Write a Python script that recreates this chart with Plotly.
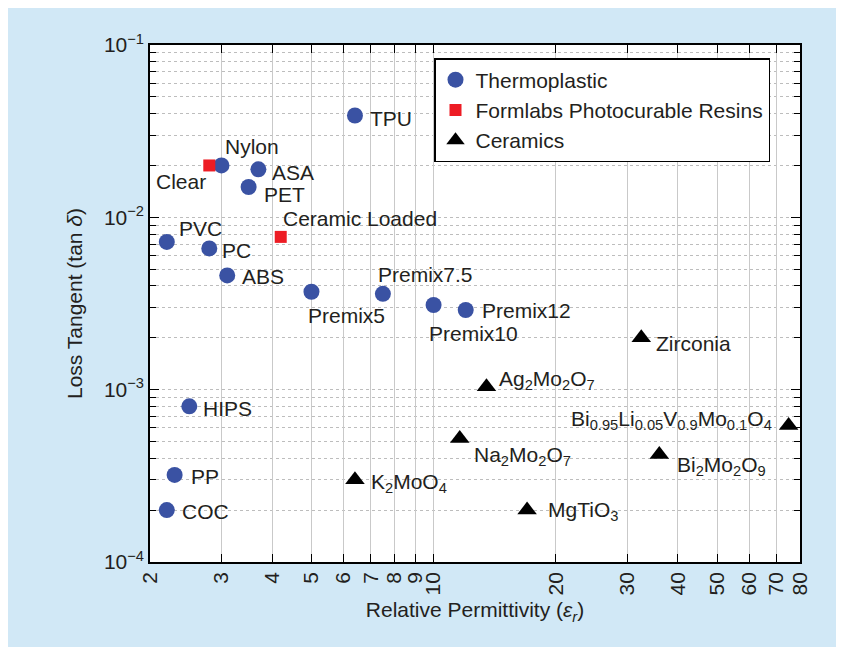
import numpy as np
import plotly.graph_objects as go

# ---------------- data ----------------
thermo_names = ["TPU", "Nylon", "ASA", "PET", "PVC", "PC", "ABS", "Premix5",
                "Premix7.5", "Premix10", "Premix12", "HIPS", "PP", "COC"]
thermo_er = [6.4, 3.0, 3.7, 3.5, 2.2, 2.8, 3.1, 5.0, 7.5, 10.0, 12.0, 2.5, 2.3, 2.2]
thermo_tand = [0.039, 0.020, 0.019, 0.015, 0.0072, 0.0066, 0.0046, 0.0037,
               0.0036, 0.0031, 0.0029, 0.0008, 0.00032, 0.0002]

resin_names = ["Clear", "Ceramic Loaded"]
resin_er = [2.8, 4.2]
resin_tand = [0.020, 0.0077]

ceramic_names = ["Zirconia", "Ag<sub>2</sub>Mo<sub>2</sub>O<sub>7</sub>",
                 "Na<sub>2</sub>Mo<sub>2</sub>O<sub>7</sub>", "K<sub>2</sub>MoO<sub>4</sub>",
                 "MgTiO<sub>3</sub>", "Bi<sub>2</sub>Mo<sub>2</sub>O<sub>9</sub>",
                 "Bi<sub>0.95</sub>Li<sub>0.05</sub>V<sub>0.9</sub>Mo<sub>0.1</sub>O<sub>4</sub>"]
ceramic_er = [32.5, 13.5, 11.6, 6.4, 17.0, 36.0, 75.0]
ceramic_tand = [0.0020, 0.00104, 0.00052, 0.00030, 0.00020, 0.00042, 0.00062]

x_ticks = [2, 3, 4, 5, 6, 7, 8, 9, 10, 20, 30, 40, 50, 60, 70, 80]
x_ticktext = [str(v) for v in x_ticks]
y_ticks = [1e-4, 1e-3, 1e-2, 1e-1]
y_ticktext = ["10<sup>−4</sup>", "10<sup>−3</sup>", "10<sup>−2</sup>", "10<sup>−1</sup>"]

# label placement (pixel offsets: xanchor, xshift, yshift)
thermo_lbl = [("left", 13, -3), ("left", 2, 19), ("left", 12, -3), ("left", 13, -8),
              ("left", 10, 13), ("left", 11, -2), ("left", 13, -1), ("left", -5, -24),
              ("left", -7, 19), ("left", -7, -29), ("left", 14, -1), ("left", 12, -2),
              ("left", 14, -2), ("left", 13, -1)]
resin_lbl = [("right", -1, -16), ("left", 0, 18)]
ceramic_lbl = [("left", 13, -6), ("left", 11, 7), ("left", 12, -17), ("left", 14, -3),
               ("left", 19, -1), ("left", 16, -11), ("right", -15, 5)]

BLUE = "#3a52a3"
RED = "#ed1c24"
BG = "#d1e8f6"
FONT = "Liberation Sans, Arial, Helvetica, sans-serif"
FS = 21

fig = go.Figure()
fig.add_trace(go.Scatter(x=thermo_er, y=thermo_tand, mode="markers", name="Thermoplastic",
                         marker=dict(symbol="circle", size=16, color=BLUE), hoverinfo="skip"))
fig.add_trace(go.Scatter(x=resin_er, y=resin_tand, mode="markers",
                         name="Formlabs Photocurable Resins",
                         marker=dict(symbol="square", size=12, color=RED), hoverinfo="skip"))
fig.add_trace(go.Scatter(x=ceramic_er, y=ceramic_tand, mode="markers", name="Ceramics",
                         marker=dict(symbol="triangle-up", size=17, color="black"),
                         hoverinfo="skip"))

annotations = []
for names, xs, ys, lbls in [(thermo_names, thermo_er, thermo_tand, thermo_lbl),
                            (resin_names, resin_er, resin_tand, resin_lbl),
                            (ceramic_names, ceramic_er, ceramic_tand, ceramic_lbl)]:
    for n, xv, yv, (xa, dx, dy) in zip(names, xs, ys, lbls):
        annotations.append(dict(x=np.log10(xv), y=np.log10(yv), xref="x", yref="y",
                                text=n, showarrow=False, xanchor=xa, yanchor="middle",
                                xshift=dx, yshift=dy,
                                font=dict(family=FONT, size=FS, color="#231f20")))

minor_y = [m * 10.0 ** e for e in (-4, -3, -2) for m in range(2, 10)]

L, R, T, B = 142, 44, 37, 85
W, H = 836, 639
pw, ph = W - L - R, H - T - B

fig.update_layout(
    width=W, height=H,
    margin=dict(l=L, r=R, t=T, b=B, autoexpand=False),
    paper_bgcolor=BG, plot_bgcolor="white",
    font=dict(family=FONT, size=FS, color="#231f20"),
    showlegend=True,
    legend=dict(x=(426 - L) / pw, y=(H - B - 50) / ph, xanchor="left", yanchor="top",
                bgcolor="white", bordercolor="black", borderwidth=1.5,
                font=dict(family=FONT, size=FS), itemsizing="trace",
                tracegroupgap=0),
    annotations=annotations,
    xaxis=dict(type="log", range=[np.log10(2), np.log10(80)],
               tickmode="array", tickvals=x_ticks, ticktext=x_ticktext,
               tickangle=-90, ticks="inside", ticklen=8, tickcolor="black",
               showline=True, linecolor="black", linewidth=1.5, mirror="ticks",
               showgrid=True, gridcolor="#c9c9c9", gridwidth=1,
               tickfont=dict(family=FONT, size=FS),
               title=dict(text="Relative Permittivity (<i>ε<sub>r</sub></i>)",
                          font=dict(family=FONT, size=FS), standoff=8),
               zeroline=False, automargin=False),
    yaxis=dict(type="log", range=[-4, -1],
               tickmode="array", tickvals=y_ticks, ticktext=y_ticktext,
               ticks="inside", ticklen=9, tickcolor="black",
               showline=True, linecolor="black", linewidth=1.5, mirror="ticks",
               showgrid=True, gridcolor="#bdbdbd", griddash="dot", gridwidth=1,
               tickfont=dict(family=FONT, size=FS),
               minor=dict(tickmode="array", tickvals=minor_y, ticks="inside", ticklen=6,
                          tickcolor="black", showgrid=True, gridcolor="#bdbdbd",
                          griddash="dot", gridwidth=1),
               title=dict(text="Loss Tangent (tan <i>δ</i>)",
                          font=dict(family=FONT, size=FS), standoff=16),
               zeroline=False, automargin=False),
)

fig.write_html("out.html")
